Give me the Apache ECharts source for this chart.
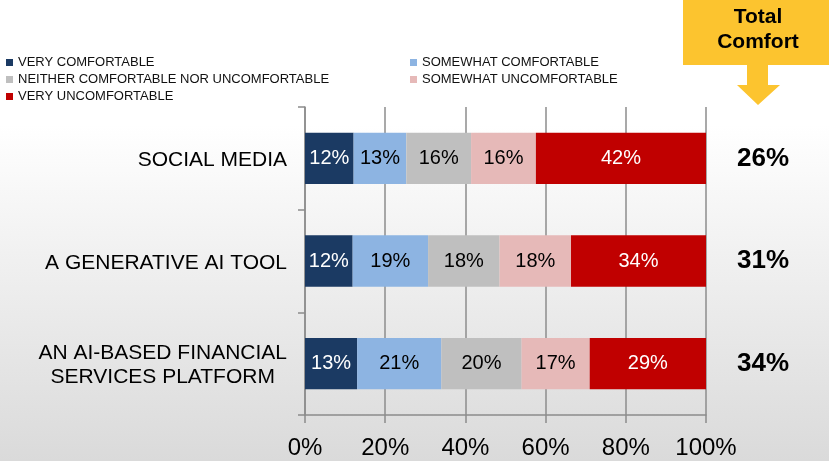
<!DOCTYPE html>
<html>
<head>
<meta charset="utf-8">
<script src="https://cdn.jsdelivr.net/npm/echarts@6/dist/echarts.min.js"></script>
<style>
  html, body { margin: 0; padding: 0; }
  /* background: white at the top, fading to light gray at the bottom */
  #chart {
    width: 829px;
    height: 461px;
    background: linear-gradient(to bottom, #ffffff 0%, #ffffff 27%, #dadada 100%);
  }
</style>
</head>
<body>
<div id="chart"></div>
<script>
// categories, top to bottom
const categories = ['SOCIAL MEDIA', 'A GENERATIVE AI TOOL', 'AN AI-BASED FINANCIAL\nSERVICES PLATFORM'];

// answers per category (percent)
const veryComfortable = [12, 12, 13];
const somewhatComfortable = [13, 19, 21];
const neither = [16, 18, 20];
const somewhatUncomfortable = [16, 18, 17];
const veryUncomfortable = [42, 34, 29];

// total comfort column on the right
const totalComfort = ['26%', '31%', '34%'];

const xTicks = [0, 20, 40, 60, 80, 100];

const seriesDefs = [
  { name: 'VERY COMFORTABLE', data: veryComfortable, color: '#1b3a63', text: '#ffffff' },
  { name: 'SOMEWHAT COMFORTABLE', data: somewhatComfortable, color: '#8db4e2', text: '#000000' },
  { name: 'NEITHER COMFORTABLE NOR UNCOMFORTABLE', data: neither, color: '#bfbfbf', text: '#000000' },
  { name: 'SOMEWHAT UNCOMFORTABLE', data: somewhatUncomfortable, color: '#e6b9b8', text: '#000000' },
  { name: 'VERY UNCOMFORTABLE', data: veryUncomfortable, color: '#c00000', text: '#ffffff' }
];

// each bar is drawn as a 100% stack: the labels keep the raw value
const rowSums = categories.map((c, i) => seriesDefs.reduce((s, d) => s + d.data[i], 0));

const font = '"Liberation Sans", Arial, sans-serif';
const axisGray = '#8c8c8c';

const chart = echarts.init(document.getElementById('chart'));

const option = {
  animation: false,
  textStyle: { fontFamily: font },
  grid: { left: 305, right: 123, top: 107, bottom: 46, containLabel: false },
  legend: [
    {
      data: ['VERY COMFORTABLE', 'NEITHER COMFORTABLE NOR UNCOMFORTABLE', 'VERY UNCOMFORTABLE'],
      orient: 'vertical', left: 6, top: 56, padding: 0,
      itemWidth: 7, itemHeight: 7, itemGap: 4, icon: 'rect',
      textStyle: { fontSize: 13, color: '#111', fontFamily: font }
    },
    {
      data: ['SOMEWHAT COMFORTABLE', 'SOMEWHAT UNCOMFORTABLE'],
      orient: 'vertical', left: 410, top: 56, padding: 0,
      itemWidth: 7, itemHeight: 7, itemGap: 4, icon: 'rect',
      textStyle: { fontSize: 13, color: '#111', fontFamily: font }
    }
  ],
  xAxis: {
    type: 'value',
    min: xTicks[0],
    max: xTicks[xTicks.length - 1],
    interval: 20,
    axisLine: { show: true, lineStyle: { color: axisGray, width: 1.5 } },
    axisTick: { show: true, length: 8, lineStyle: { color: axisGray, width: 1.5 } },
    splitLine: { show: true, lineStyle: { color: axisGray, width: 1.5 } },
    axisLabel: { formatter: '{value}%', fontSize: 24, color: '#000', margin: 21, fontFamily: font }
  },
  yAxis: [
    {
      type: 'category',
      inverse: true,
      data: categories,
      axisLine: { show: true, lineStyle: { color: axisGray, width: 1.5 } },
      axisTick: { show: true, length: 7, alignWithLabel: false, lineStyle: { color: axisGray, width: 1.5 } },
      axisLabel: {
        margin: 18,
        padding: [4, 0, 0, 0],
        formatter: v => v.split('\n').map(l => '{c|' + l + '}').join('\n'),
        rich: { c: { fontSize: 21, lineHeight: 24, color: '#000', align: 'center', fontFamily: font } }
      }
    },
    {
      type: 'category',
      inverse: true,
      position: 'right',
      data: totalComfort,
      axisLine: { show: false },
      axisTick: { show: false },
      axisLabel: {
        margin: 31, align: 'left', padding: [6, 0, 0, 0],
        fontSize: 26, fontWeight: 'bold', color: '#000', fontFamily: font
      }
    }
  ],
  series: seriesDefs.map(d => ({
    name: d.name,
    type: 'bar',
    stack: 'all',
    yAxisIndex: 0,
    barWidth: '50%',
    itemStyle: { color: d.color },
    label: {
      show: true,
      position: 'inside',
      fontSize: 20,
      color: d.text,
      fontFamily: font,
      formatter: p => d.data[p.dataIndex] + '%'
    },
    data: d.data.map((v, i) => v / rowSums[i] * 100)
  })),
  graphic: [
    {
      type: 'rect',
      shape: { x: 683, y: 0, width: 146, height: 65 },
      style: { fill: '#fcc42f' }
    },
    {
      type: 'polygon',
      shape: { points: [[747, 65], [768, 65], [768, 85], [780, 85], [758, 105], [737, 85], [747, 85]] },
      style: { fill: '#fcc42f' }
    },
    {
      type: 'text',
      x: 758, y: 30,
      style: {
        text: 'Total\nComfort',
        fill: '#000',
        font: 'bold 21px "Liberation Sans", Arial, sans-serif',
        lineHeight: 25,
        align: 'center',
        verticalAlign: 'middle'
      }
    }
  ]
};

chart.setOption(option);
</script>
</body>
</html>
